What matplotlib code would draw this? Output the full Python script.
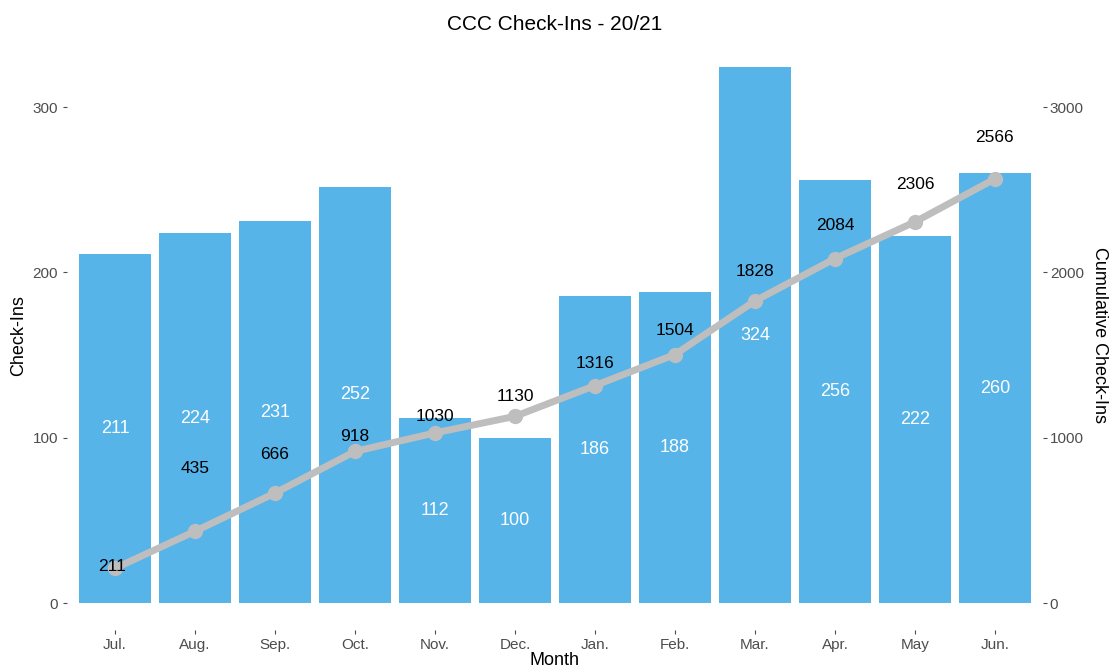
import numpy as np
import matplotlib.pyplot as plt

plt.rcParams['font.family'] = ['Liberation Sans', 'DejaVu Sans']

# data
months = ['Jul.', 'Aug.', 'Sep.', 'Oct.', 'Nov.', 'Dec.',
          'Jan.', 'Feb.', 'Mar.', 'Apr.', 'May', 'Jun.']
checkins = [211, 224, 231, 252, 112, 100, 186, 188, 324, 256, 222, 260]
cumulative = [211, 435, 666, 918, 1030, 1130, 1316, 1504, 1828, 2084, 2306, 2566]
scale = 10  # secondary axis = primary * 10

# label nudges (points) for the cumulative labels, like the repelled ones in the original
label_dy = [1, 45, 28, 11, 12, 14, 16, 17, 21, 24, 27, 30]
label_dx = [-2, 0, 0, 0, 0, 0, 0, 0, 0, 0, 0, 0]

bar_col = '#56B4E9'
line_col = '#BEBEBE'
tick_col = '#4D4D4D'

fig = plt.figure(figsize=(11.09, 6.72), dpi=100)
ax = fig.add_axes([0.0604, 0.0625, 0.88, 0.877])

x = np.arange(1, len(months) + 1)
ax.bar(x, checkins, width=0.9, color=bar_col, zorder=1)
for xi, v in zip(x, checkins):
    ax.text(xi, v / 2, str(v), color='white', ha='center', va='center',
            fontsize=13, zorder=4)

cum_scaled = np.array(cumulative) / scale
ax.plot(x, cum_scaled, color=line_col, lw=5, zorder=2, solid_capstyle='round')
ax.plot(x, cum_scaled, 'o', color=line_col, ms=10, zorder=3)
for xi, c, cs, dy, dx in zip(x, cumulative, cum_scaled, label_dy, label_dx):
    ax.annotate(str(c), (xi, cs), xytext=(dx, dy), textcoords='offset points',
                ha='center', va='center', fontsize=12.5, color='black', zorder=5)

ymax = max(checkins) * 1.05
ax.set_ylim(-max(checkins) * 0.05, ymax)
ax.set_xlim(0.4, len(months) + 0.6)
ax.set_xticks(x)
ax.set_xticklabels(months)
ax.set_yticks([0, 100, 200, 300])

for s in ax.spines.values():
    s.set_visible(False)
ax.tick_params(colors=tick_col, labelcolor=tick_col, labelsize=11, length=3, width=0.8)
ax.tick_params(axis='x', pad=3)
ax.set_xlabel('Month', fontsize=13, labelpad=0)
ax.set_ylabel('Check-Ins', fontsize=13)

ax2 = ax.twinx()
ax2.set_ylim(ax.get_ylim()[0] * scale, ax.get_ylim()[1] * scale)
ax2.set_yticks([0, 1000, 2000, 3000])
for s in ax2.spines.values():
    s.set_visible(False)
ax2.tick_params(colors=tick_col, labelcolor=tick_col, labelsize=11, length=3, width=0.8)
ax2.tick_params(axis='y', pad=2)
ax2.set_ylabel('Cumulative Check-Ins', fontsize=13, rotation=270, va='center')
ax2.yaxis.set_label_coords(1.058, 0.5)

ax.set_title('CCC Check-Ins - 20/21', fontsize=15, pad=8)

fig.savefig('out.png', dpi=100)
